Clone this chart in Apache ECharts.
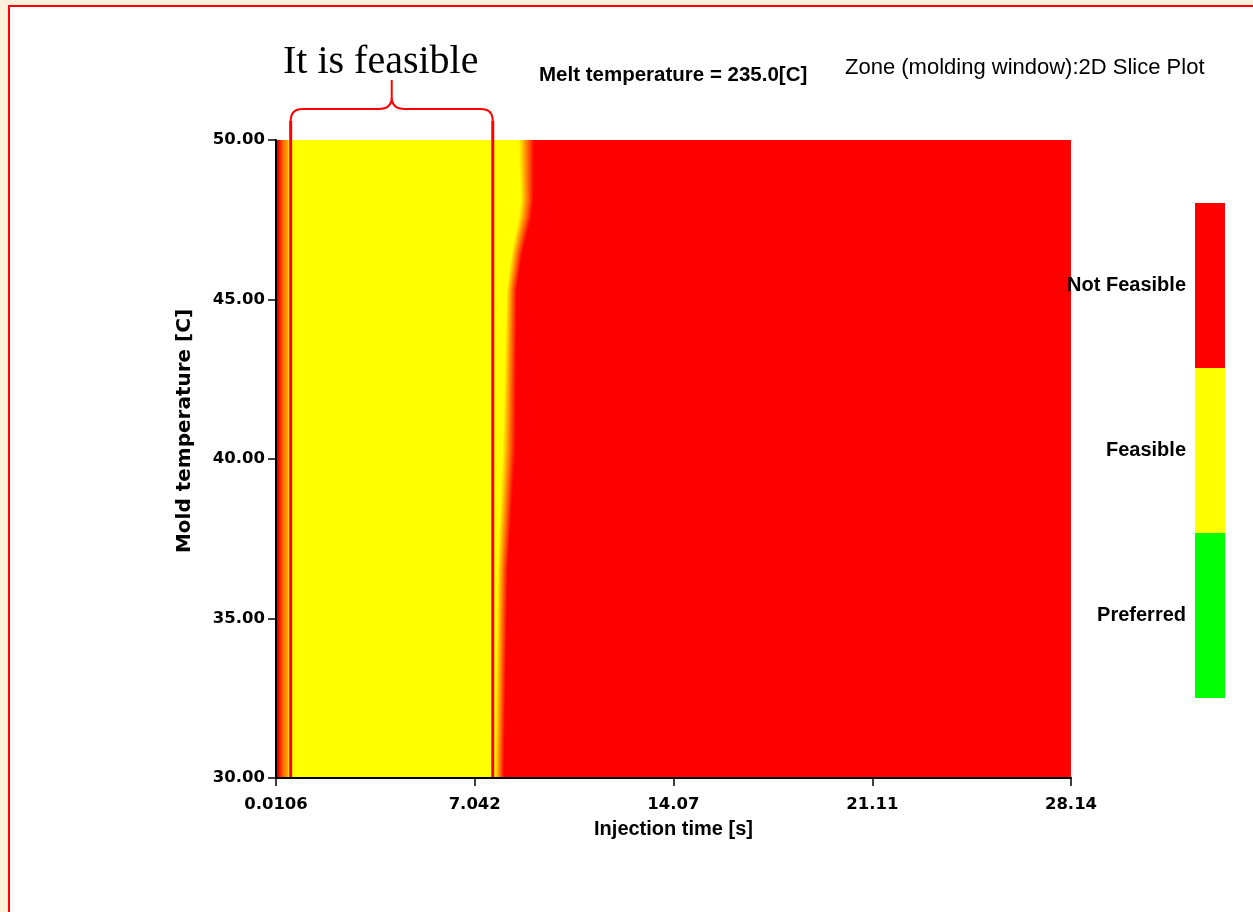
<!DOCTYPE html>
<html><head><meta charset="utf-8">
<script src="https://cdn.jsdelivr.net/npm/echarts@6/dist/echarts.min.js"></script>
<style>
html,body{margin:0;padding:0;background:#fcf2dc;width:1253px;height:912px;overflow:hidden;}
#frame{position:absolute;left:8px;top:5px;right:0;bottom:0;background:#fff;border-left:2px solid #ff0000;border-top:2px solid #ff0000;}
#chart{position:absolute;left:0;top:0;width:1253px;height:912px;}
</style></head><body>
<div id="frame"></div><div id="chart"></div>
<script>
// ---- data ----
const xTickValues = [0.0106, 7.042, 14.07, 21.11, 28.14];
const xRange = [0.0106, 28.14];
const yRange = [30, 50];
const yInterval = 5;
// feasibility boundary (mold temperature -> injection time)
const boundaryTemp   = [50, 48.1, 47.6, 46.5, 45.3, 40.3, 36.5, 30];
const feasibleEdge   = [8.61, 8.68, 8.61, 8.36, 8.18, 8.04, 7.86, 7.76];
const infeasibleEdge = [9.17, 9.14, 9.07, 8.75, 8.54, 8.50, 8.22, 8.08];
const feasibleStart = 0.45;
const annotationX = [0.53, 7.68];
const zoneLabels = ['Preferred', 'Feasible', 'Not Feasible'];
const zoneColors = ['#00ff00', '#ffff00', '#ff0000'];

const chart = echarts.init(document.getElementById('chart'));

function renderZones(params, api) {
  if (params.dataIndex !== 0) return null;
  const children = [];
  const tl = api.coord([xRange[0], yRange[1]]);
  const br = api.coord([xRange[1], yRange[0]]);
  children.push({type: 'rect', shape: {x: tl[0], y: tl[1], width: br[0] - tl[0], height: br[1] - tl[1]}, style: {fill: '#ff0000'}});
  const N = 16;
  for (let k = N - 1; k >= 0; k--) {
    const t = k / N;
    const pts = boundaryTemp.map((T, i) => api.coord([feasibleEdge[i] + t * (infeasibleEdge[i] - feasibleEdge[i]), T]));
    pts.push(api.coord([feasibleStart, yRange[0]]), api.coord([feasibleStart, yRange[1]]));
    const g = Math.round(255 * (1 - t));
    children.push({type: 'polygon', shape: {points: pts}, style: {fill: 'rgb(255,' + g + ',0)'}});
  }
  const b = api.coord([feasibleStart, yRange[0]]);
  children.push({type: 'rect', shape: {x: tl[0], y: tl[1], width: b[0] - tl[0], height: b[1] - tl[1]},
    style: {fill: new echarts.graphic.LinearGradient(0, 0, 1, 0, [
      {offset: 0, color: '#a00000'}, {offset: 0.25, color: '#ff1000'},
      {offset: 0.6, color: '#ff7000'}, {offset: 1, color: '#ffb000'}])}});
  return {type: 'group', children};
}

function renderBrace(params, api) {
  const l = api.coord([api.value(0), yRange[0]]);
  const r = api.coord([api.value(1), yRange[0]]);
  const top = api.coord([api.value(0), yRange[1]])[1];
  const xl = l[0], xr = r[0], yb = l[1];
  const yH = top - 31, yTip = top - 60, rad = 12, xm = (xl + xr) / 2;
  const d = 'M' + xl + ' ' + (yH + rad) + ' Q' + xl + ' ' + yH + ' ' + (xl + rad) + ' ' + yH +
    ' L' + (xm - 13) + ' ' + yH + ' Q' + xm + ' ' + yH + ' ' + xm + ' ' + (yH - 12) +
    ' L' + xm + ' ' + yTip + ' M' + xm + ' ' + (yH - 12) + ' Q' + xm + ' ' + yH + ' ' + (xm + 13) + ' ' + yH +
    ' L' + (xr - rad) + ' ' + yH + ' Q' + xr + ' ' + yH + ' ' + xr + ' ' + (yH + rad);
  return {type: 'group', children: [
    {type: 'path', shape: {pathData: d}, style: {fill: null, stroke: '#ff0000', lineWidth: 2}},
    {type: 'line', shape: {x1: xl, y1: yH + rad, x2: xl, y2: yb}, style: {stroke: '#ff0000', lineWidth: 3}},
    {type: 'line', shape: {x1: xr, y1: yH + rad, x2: xr, y2: yb}, style: {stroke: '#ff0000', lineWidth: 3}}
  ]};
}

const tickFont = {color: '#000', fontFamily: 'DejaVu Sans', fontWeight: 'bold', fontSize: 16.5};

chart.setOption({
  animation: false,
  title: [
    {text: 'It is feasible', left: 283, top: 42, padding: 0,
      textStyle: {fontFamily: 'Liberation Serif', fontWeight: 'normal', fontSize: 40, color: '#000'}},
    {text: 'Melt temperature = 235.0[C]', left: 539, top: 65, padding: 0,
      textStyle: {fontFamily: 'Liberation Sans', fontWeight: 'bold', fontSize: 20.5, color: '#000'}},
    {text: 'Zone (molding window):2D Slice Plot', left: 845, top: 57, padding: 0,
      textStyle: {fontFamily: 'Liberation Sans', fontWeight: 'normal', fontSize: 22, color: '#000'}}
  ],
  grid: {left: 276, right: 182, top: 140, bottom: 134},
  xAxis: {
    type: 'value', min: xRange[0], max: xRange[1], z: 10,
    axisLine: {show: true, onZero: false, lineStyle: {color: '#000', width: 2}},
    axisTick: {show: true, customValues: xTickValues, length: 8, lineStyle: {color: '#000', width: 1.5}},
    axisLabel: {customValues: xTickValues, formatter: v => String(v), margin: 18, ...tickFont},
    splitLine: {show: false},
    name: 'Injection time [s]', nameLocation: 'middle', nameGap: 41,
    nameTextStyle: {color: '#000', fontFamily: 'Liberation Sans', fontWeight: 'bold', fontSize: 20}
  },
  yAxis: {
    type: 'value', min: yRange[0], max: yRange[1], interval: yInterval, z: 10,
    axisLine: {show: true, onZero: false, lineStyle: {color: '#000', width: 2}},
    axisTick: {show: true, length: 8, lineStyle: {color: '#000', width: 1.5}},
    axisLabel: {formatter: v => v.toFixed(2), margin: 11, ...tickFont},
    splitLine: {show: false},
    name: 'Mold temperature [C]', nameLocation: 'middle', nameGap: 81,
    nameTextStyle: {color: '#000', fontFamily: 'DejaVu Sans', fontWeight: 'bold', fontSize: 20, padding: [0, 0, 0, 56]}
  },
  visualMap: {
    type: 'piecewise', seriesIndex: 2, orient: 'vertical', right: 28, top: 203, padding: 0,
    itemWidth: 30, itemHeight: 165, itemGap: 0, itemSymbol: 'rect', align: 'right', textGap: 9,
    selectedMode: false, hoverLink: false,
    pieces: zoneLabels.map((l, i) => ({value: i, label: l, color: zoneColors[i]})),
    textStyle: {color: '#000', fontFamily: 'Liberation Sans', fontWeight: 'bold', fontSize: 20, padding: [8, 0, 0, 0]}
  },
  series: [
    {type: 'custom', renderItem: renderZones, data: boundaryTemp.map((T, i) => [feasibleEdge[i], T, infeasibleEdge[i]]), silent: true, z: 2},
    {type: 'custom', renderItem: renderBrace, data: [annotationX], silent: true, clip: false, z: 3},
    {type: 'scatter', data: []}
  ]
});
</script></body></html>
